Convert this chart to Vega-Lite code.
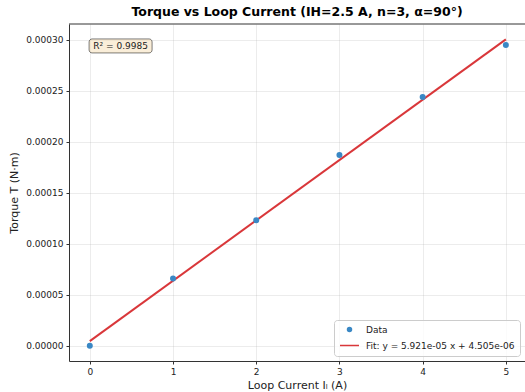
{
  "$schema": "https://vega.github.io/schema/vega-lite/v6.json",
  "autosize": {"type": "none"},
  "width": 456,
  "height": 337,
  "padding": {"left": 69, "top": 24, "right": 0, "bottom": 31},
  "background": "white",
  "config": {
    "font": "DejaVu Sans",
    "view": {"stroke": null},
    "axis": {
      "labelFont": "DejaVu Sans",
      "titleFont": "DejaVu Sans",
      "labelFontSize": 9,
      "titleFontSize": 11,
      "titleFontWeight": "normal",
      "labelColor": "#222",
      "titleColor": "#222",
      "domainColor": "#333",
      "tickColor": "#333",
      "tickSize": 3,
      "labelPadding": 3,
      "gridColor": "#b0b0b0",
      "gridOpacity": 0.3,
      "gridWidth": 0.8
    }
  },
  "title": {
    "text": "Torque vs Loop Current (IH=2.5 A, n=3, α=90°)",
    "font": "DejaVu Sans",
    "fontSize": 12.5,
    "fontWeight": "bold",
    "color": "#000",
    "anchor": "middle",
    "offset": 5
  },
  "layer": [
    {
      "data": {"values": [{"top": 0.00031563}]},
      "mark": {"type": "rule", "color": "#333", "strokeWidth": 1},
      "encoding": {"y": {"field": "top", "type": "quantitative"}}
    },
    {
      "data": {"values": [
        {"I": 0, "T": 0.000004505},
        {"I": 5, "T": 0.000300555}
      ]},
      "mark": {"type": "line", "strokeWidth": 2, "color": "#d9373a"},
      "encoding": {
        "x": {"field": "I", "type": "quantitative", "scale": {"domain": [-0.25, 5.23], "nice": false, "zero": false},
              "axis": {"values": [0, 1, 2, 3, 4, 5], "format": "d", "title": "Loop Current Iₗ (A)", "titlePadding": 3}},
        "y": {"field": "T", "type": "quantitative", "scale": {"domain": [-0.00001503, 0.00031563], "nice": false, "zero": false},
              "axis": {"values": [0, 0.00005, 0.0001, 0.00015, 0.0002, 0.00025, 0.0003], "format": ".5f", "title": "Torque T (N·m)", "titlePadding": 6}}
      }
    },
    {
      "data": {"values": [
        {"I": 0, "T": 0.0, "series": "Data"},
        {"I": 1, "T": 0.000066, "series": "Data"},
        {"I": 2, "T": 0.000123, "series": "Data"},
        {"I": 3, "T": 0.000187, "series": "Data"},
        {"I": 4, "T": 0.000244, "series": "Data"},
        {"I": 5, "T": 0.000295, "series": "Data"}
      ]},
      "mark": {"type": "point", "filled": true, "fill": "#3a88c5", "strokeWidth": 2, "opacity": 1},
      "encoding": {
        "x": {"field": "I", "type": "quantitative"},
        "y": {"field": "T", "type": "quantitative"},
        "stroke": {"field": "series", "type": "nominal",
          "scale": {"domain": ["Data", "Fit: y = 5.921e-05 x + 4.505e-06"], "range": ["#3a88c5", "#d9373a"]},
          "legend": {
            "title": null,
            "orient": "bottom-right",
            "offset": 5,
            "labelFont": "DejaVu Sans",
            "labelFontSize": 9,
            "labelColor": "#222",
            "rowPadding": -6,
            "padding": 5,
            "labelOffset": 6,
            "strokeColor": "#cccccc",
            "fillColor": "rgba(255,255,255,0.8)",
            "cornerRadius": 3,
            "symbolOpacity": 1
          }
        },
        "shape": {"field": "series", "type": "nominal",
          "scale": {"domain": ["Data", "Fit: y = 5.921e-05 x + 4.505e-06"], "range": ["circle", "stroke"]},
          "legend": {"title": null}
        },
        "size": {"field": "series", "type": "nominal",
          "scale": {"type": "point", "padding": 0, "domain": ["Data", "Fit: y = 5.921e-05 x + 4.505e-06"], "range": [16, 361]},
          "legend": {"title": null}
        }
      }
    },
    {
      "data": {"values": [{"I": 0.37, "T": 0.0002941, "label": "R² = 0.9985"}]},
      "layer": [
        {
          "mark": {"type": "rect", "width": 63, "height": 14, "cornerRadius": 3, "fill": "#f5deb3", "fillOpacity": 0.5, "stroke": "#000", "strokeOpacity": 0.5, "strokeWidth": 1},
          "encoding": {
            "x": {"field": "I", "type": "quantitative"},
            "y": {"field": "T", "type": "quantitative"}
          }
        },
        {
          "mark": {"type": "text", "font": "DejaVu Sans", "fontSize": 9, "color": "#222", "align": "center", "baseline": "middle"},
          "encoding": {
            "x": {"field": "I", "type": "quantitative"},
            "y": {"field": "T", "type": "quantitative"},
            "text": {"field": "label"}
          }
        }
      ]
    }
  ]
}
